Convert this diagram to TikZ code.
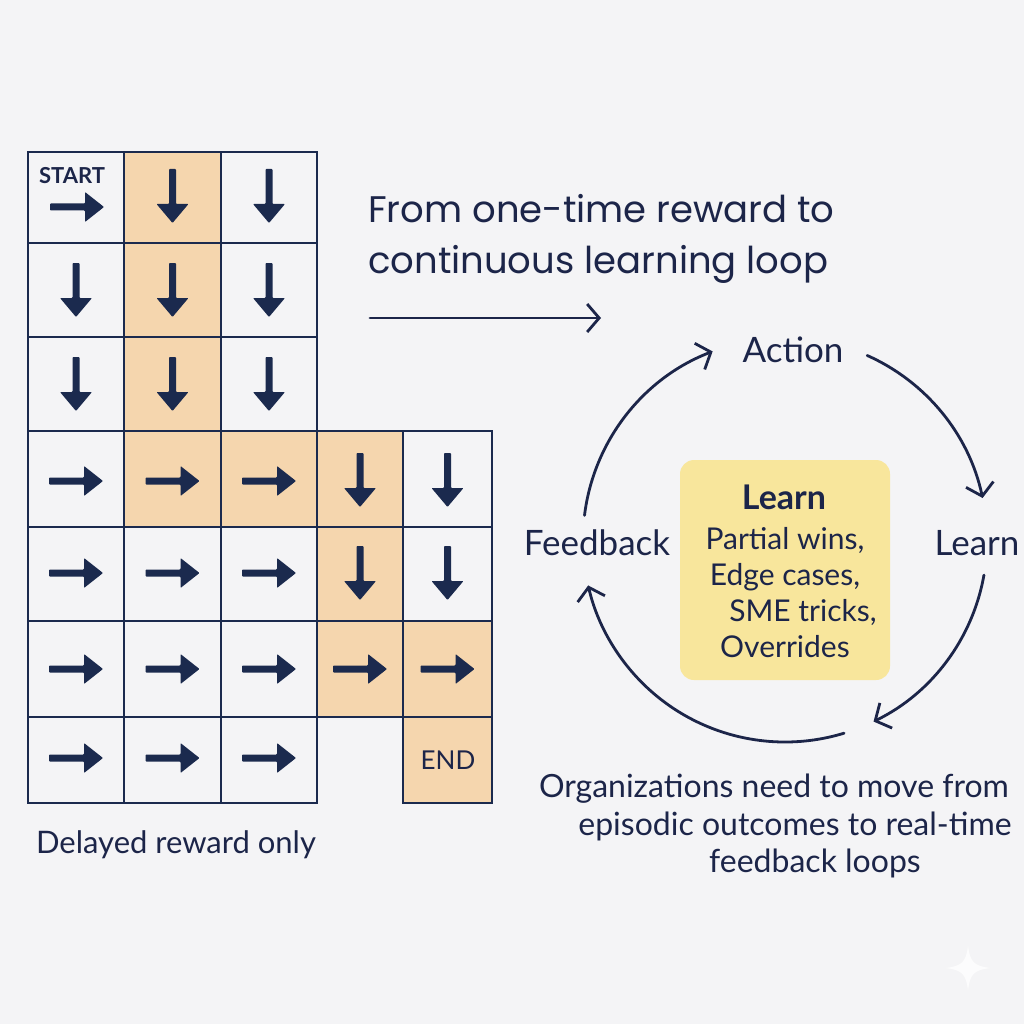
\documentclass[tikz,border=0pt]{standalone}
\usepackage{fontspec}
\setmainfont{Lato}
\newfontfamily\titlefont{Poppins}
\usetikzlibrary{arrows.meta,calc}
\definecolor{bgc}{HTML}{F4F4F6}
\definecolor{navy}{HTML}{1C2549}
\definecolor{gridc}{HTML}{1B2A4E}
\definecolor{peach}{HTML}{F5D6AE}
\definecolor{boxy}{HTML}{F8E69C}
\tikzset{
  cell/.style={draw=gridc, line width=2.8pt, line join=miter},
  txt/.style={text=navy, inner sep=0pt, font=\fontsize{32}{38}\selectfont},
  cyc/.style={draw=navy, line width=2.8pt, line cap=round, -{Straight Barb[length=12pt,width=28pt,line width=2.8pt]}},
  pics/rarr/.style={code={\fill[gridc, rounded corners=0.8pt] (-27,-3.5) -- (8,-3.5) -- (8,-15) -- (27,0) -- (8,15) -- (8,3.5) -- (-27,3.5) -- cycle;}},
  pics/darr/.style={code={\fill[gridc, rounded corners=0.8pt] (-3.5,27) -- (-3.5,-8) -- (-16,-8) -- (0,-27) -- (16,-8) -- (3.5,-8) -- (3.5,27) -- cycle;}},
}
\begin{document}
\begin{tikzpicture}[x=1pt,y=1pt]
\fill[bgc] (0,0) rectangle (1024,-1024);
\useasboundingbox (0,0) rectangle (1024,-1024);
% peach cells
\fill[peach] (124,-152) rectangle (221,-527);
\fill[peach] (221,-431) rectangle (317,-527);
\fill[peach] (317,-431) rectangle (403,-717);
\fill[peach] (403,-621) rectangle (492,-803);
% grid cells
\foreach \ya/\yb in {152/243,243/337,337/431}{
  \foreach \xa/\xb in {28/124,124/221,221/317}{
    \draw[cell] (\xa,-\ya) rectangle (\xb,-\yb);}}
\foreach \ya/\yb in {431/527,527/621,621/717}{
  \foreach \xa/\xb in {28/124,124/221,221/317,317/403,403/492}{
    \draw[cell] (\xa,-\ya) rectangle (\xb,-\yb);}}
\foreach \xa/\xb in {28/124,124/221,221/317,403/492}{
  \draw[cell] (\xa,-717) rectangle (\xb,-803);}
% arrows in cells
\node[txt, font=\fontsize{22}{26}\selectfont\bfseries] (start) at (72,-176) {START};
\pic at (77,-207) {rarr};
\foreach \x in {172.5,269}{\pic at (\x,-196) {darr};}
\foreach \y in {-290,-384}{\foreach \x in {76,172.5,269}{\pic at (\x,\y) {darr};}}
\foreach \x in {76,172.5,269}{\pic at (\x,-481) {rarr}; \pic at (\x,-573) {rarr}; \pic at (\x,-669) {rarr}; \pic at (\x,-758) {rarr};}
\foreach \x in {360,447.5}{\pic at (\x,-480) {darr}; \pic at (\x,-573) {darr}; \pic at (\x,-669) {rarr};}
\node[txt, font=\fontsize{26}{30}\selectfont] (end) at (448,-760) {END};
\node[txt, font=\fontsize{31}{36}\selectfont, anchor=base] (delayed) at (176,-853) {Delayed reward only};
% title
\node[txt, font=\fontsize{37}{51}\selectfont\titlefont, anchor=base west, align=left] (title) at (368,-273) {From one-time reward to\\continuous learning loop};
\coordinate (ta) at (370,-318);
\coordinate (tb) at (601,-318);
\draw[cyc] (ta) -- (tb);
% cycle
\coordinate (O) at (785,-540);
\node[txt, font=\fontsize{35}{40}\selectfont] (action) at (793,-350) {Action};
\node[txt, font=\fontsize{35}{40}\selectfont] (learnR) at (977,-543) {Learn};
\node[txt, font=\fontsize{35}{40}\selectfont] (feedback) at (597,-543) {Feedback};
\draw[cyc] ([shift={(66:202pt)}]O) arc[start angle=66, end angle=12, radius=202pt];
\draw[cyc] ([shift={(-10:202pt)}]O) arc[start angle=-10, end angle=-64, radius=202pt];
\draw[cyc] ([shift={(-73:202pt)}]O) arc[start angle=-73, end angle=-167, radius=202pt];
\draw[cyc] ([shift={(173:202pt)}]O) arc[start angle=173, end angle=111, radius=202pt];
% center box
\node[fill=boxy, rounded corners=14pt, minimum width=210pt, minimum height=220pt, inner sep=0pt] (box) at (785,-570) {};
\node[txt, font=\fontsize{34}{40}\selectfont\bfseries] (learnT) at (784,-497) {Learn};
\node[txt, font=\fontsize{30}{36}\selectfont, align=center, anchor=base] (items) at (785,-657) {Partial wins,\\Edge cases,\\\hspace*{36pt}SME tricks,\\Overrides};
% bottom text
\node[txt, anchor=base] (b1) at (774,-797) {Organizations need to move from};
\node[txt, anchor=base] (b2) at (795,-835) {episodic outcomes to real-time};
\node[txt, anchor=base] (b3) at (815,-872) {feedback loops};
% watermark sparkle
\fill[white, opacity=0.8] (968,-946) .. controls (970,-962) and (974,-966) .. (990,-968) .. controls (974,-970) and (970,-974) .. (968,-990) .. controls (966,-974) and (962,-970) .. (946,-968) .. controls (962,-966) and (966,-962) .. (968,-946) -- cycle;
\end{tikzpicture}
\end{document}
